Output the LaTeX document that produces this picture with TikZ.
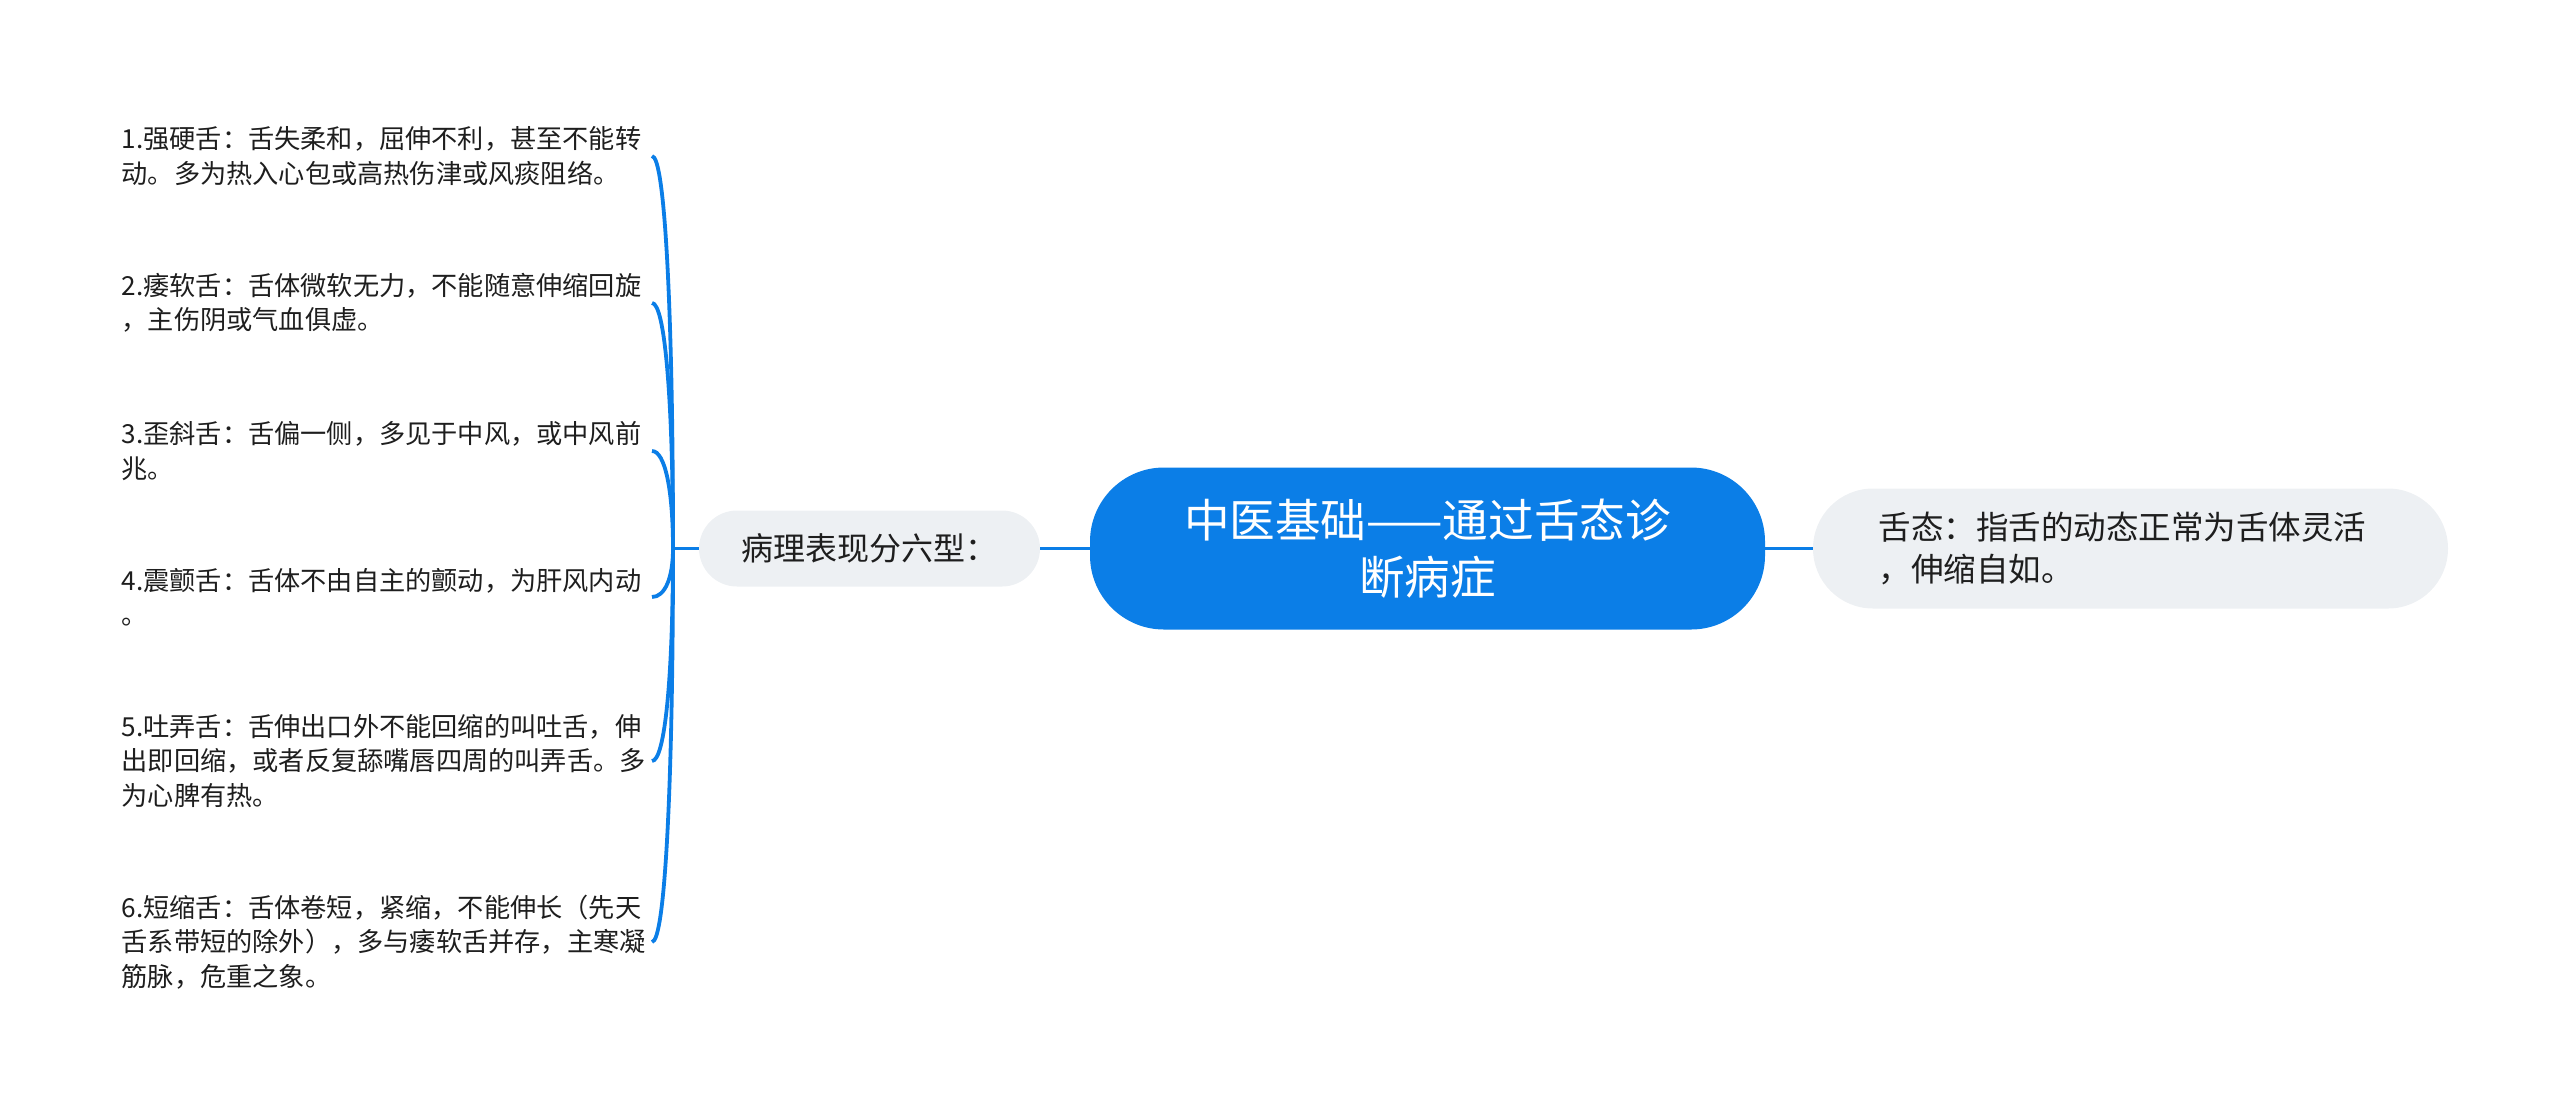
\documentclass[tikz,border=0pt]{standalone}
\usepackage{fontspec}
\setmainfont{Noto Sans CJK SC}
\usepackage{tikz}
\usetikzlibrary{calc}
\definecolor{mapblue}{RGB}{11,126,231}
\definecolor{pillgray}{RGB}{237,240,243}
\definecolor{ink}{RGB}{30,30,30}
\newcommand{\drawbranch}{\draw[mapblue, line width=1.9pt]}
\newcommand{\leafcurve}[1]{\drawbranch (#1.east) .. controls ($(#1.east)+(13,0)$) and ($(hub)!0.6!(hub|-#1.east)$) .. (hub);}

\begin{document}
\begin{tikzpicture}[x=0.5pt, y=-0.5pt,
    leaf/.style={anchor=east, align=left, text width=265pt, inner xsep=0pt, inner ysep=2pt, text=ink, font=\fontsize{13.1pt}{17.25pt}\selectfont},
    pill/.style={fill=pillgray, text=ink, rounded corners=#1, inner sep=0pt}]
\useasboundingbox (0,0) rectangle (2560,1115);
% centre and the two first-level topics
\node[fill=mapblue, text=white, rounded corners=37pt, minimum width=337.5pt, minimum height=81pt, align=center, font=\fontsize{22.8pt}{28.5pt}\selectfont] (root) at (1427.5,548.5) {中医基础——通过舌态诊\\断病症};
\node[pill=19pt, minimum width=170.5pt, minimum height=38pt, font=\fontsize{16pt}{20pt}\selectfont] (sick) at (869.5,548.5) {病理表现分六型：};
\node[pill=30pt, minimum width=317.5pt, minimum height=60pt, align=left, text width=252pt, font=\fontsize{16.25pt}{21pt}\selectfont] (state) at (2130.5,548.5) {舌态：指舌的动态正常为舌体灵活\\，伸缩自如。};
\drawbranch (sick.east) -- (root.west);
\drawbranch (root.east) -- (state.west);
% the six types
\coordinate (hub) at (673,548.5);
\drawbranch (sick.west) -- (hub);
\node[leaf] (t1) at (652,156) {1.强硬舌：舌失柔和，屈伸不利，甚至不能转\\动。多为热入心包或高热伤津或风痰阻络。};
\node[leaf] (t2) at (652,303) {2.痿软舌：舌体微软无力，不能随意伸缩回旋\\，主伤阴或气血俱虚。};
\node[leaf] (t3) at (652,451) {3.歪斜舌：舌偏一侧，多见于中风，或中风前\\兆。};
\node[leaf] (t4) at (652,597) {4.震颤舌：舌体不由自主的颤动，为肝风内动\\。};
\node[leaf] (t5) at (652,761) {5.吐弄舌：舌伸出口外不能回缩的叫吐舌，伸\\出即回缩，或者反复舔嘴唇四周的叫弄舌。多\\为心脾有热。};
\node[leaf] (t6) at (652,942) {6.短缩舌：舌体卷短，紧缩，不能伸长（先天\\舌系带短的除外），多与痿软舌并存，主寒凝\\筋脉，危重之象。};
\foreach \n in {1,...,6}{
    \leafcurve{t\n}
}
\end{tikzpicture}
\end{document}
